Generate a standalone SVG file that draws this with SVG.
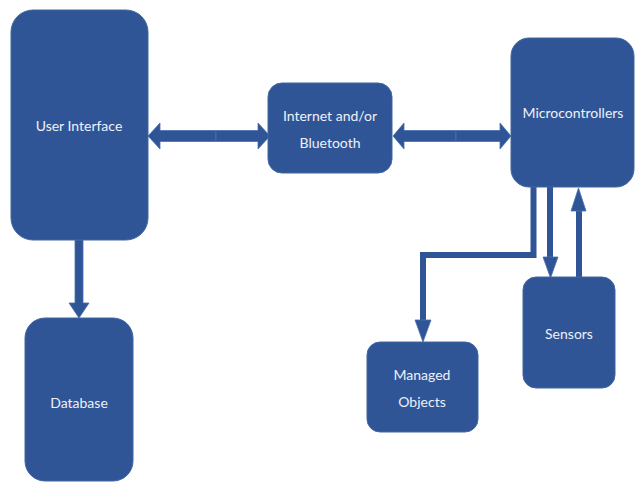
<svg xmlns="http://www.w3.org/2000/svg" width="635" height="482" viewBox="0 0 635 482">
  <style>
    .node { fill: #2F5597; stroke: #41689f; stroke-width: 1; }
    .lbl { font-family: Lato, "Liberation Sans", sans-serif; font-size: 14px; fill: #eef1f7; text-anchor: middle; }
    .arr { fill: #2F5597; stroke: #4a6fae; stroke-width: 0.8; }
    .line { fill: none; stroke: #2F5597; stroke-width: 6; }
  </style>
  <rect width="635" height="482" fill="#ffffff"/>
  <g id="connectors">
    <polygon class="arr" points="148,136 160,123 160,130.5 216,130.5 216,141.5 160,141.5 160,149"/>
    <polygon class="arr" points="216,130.5 258,130.5 258,123 270,136 258,149 258,141.5 216,141.5"/>
    <polygon class="arr" points="393,136 404,123 404,130.5 456,130.5 456,141.5 404,141.5 404,149"/>
    <polygon class="arr" points="456,130.5 500,130.5 500,123 511,136 500,149 500,141.5 456,141.5"/>
    <polygon class="arr" points="75,240 83,240 83,303 89,303 79,318 69,303 75,303"/>
    <polyline class="line" points="533.5,187 533.5,255 423,255 423,321"/>
    <polygon class="arr" points="415,320 431,320 423,342"/>
    <rect x="547" y="187" width="6" height="71" fill="#2F5597"/>
    <polygon class="arr" points="543,257 558,257 550.5,278"/>
    <rect x="576" y="210" width="6" height="68" fill="#2F5597"/>
    <polygon class="arr" points="571,211 586,211 578.5,188"/>
  </g>
  <g id="user-interface">
    <rect class="node" x="11" y="10" width="137" height="230" rx="22"/>
    <text class="lbl" x="79" y="131">User Interface</text>
  </g>
  <g id="internet">
    <rect class="node" x="268" y="83" width="124" height="90" rx="14"/>
    <text class="lbl" x="330" y="121">Internet and/or</text>
    <text class="lbl" x="330" y="148">Bluetooth</text>
  </g>
  <g id="microcontrollers">
    <rect class="node" x="511" y="38" width="123" height="149" rx="18"/>
    <text class="lbl" x="573" y="118">Microcontrollers</text>
  </g>
  <g id="database">
    <rect class="node" x="25" y="318" width="108" height="163" rx="20"/>
    <text class="lbl" x="79" y="408">Database</text>
  </g>
  <g id="managed-objects">
    <rect class="node" x="367" y="342" width="111" height="90" rx="13"/>
    <text class="lbl" x="422" y="380">Managed</text>
    <text class="lbl" x="422" y="407">Objects</text>
  </g>
  <g id="sensors">
    <rect class="node" x="523" y="277" width="92" height="111" rx="13"/>
    <text class="lbl" x="569" y="339">Sensors</text>
  </g>
</svg>
